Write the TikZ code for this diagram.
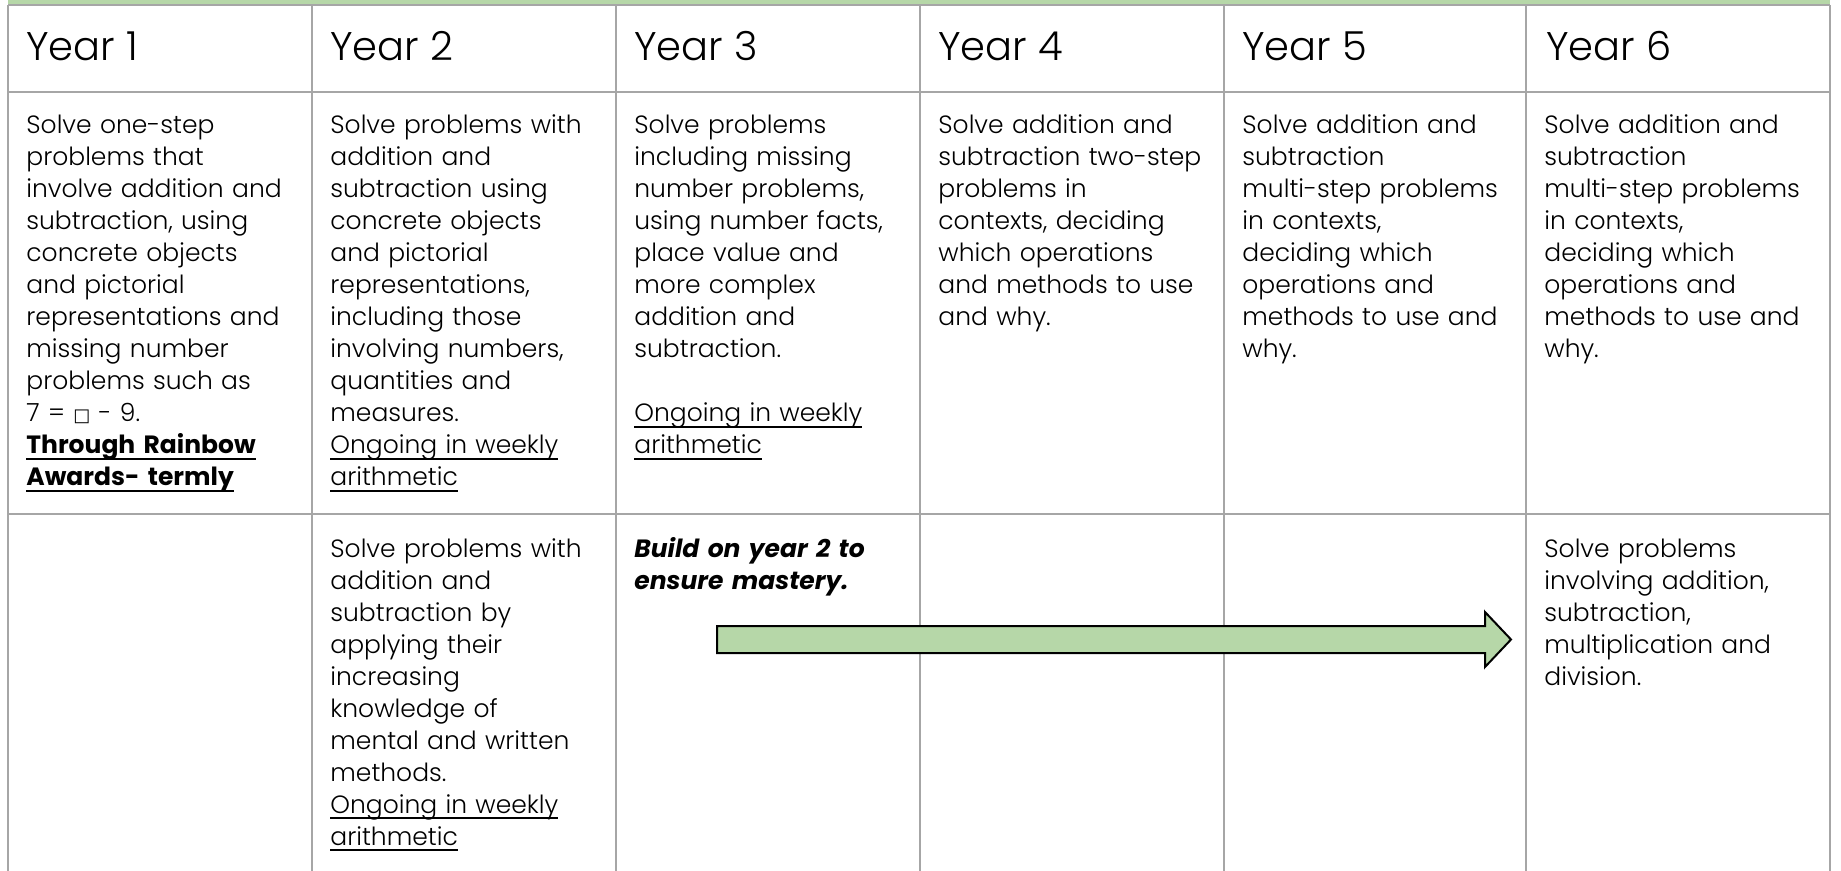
\documentclass[tikz,border=0pt]{standalone}
\usepackage{fontspec}
\setmainfont{Poppins}[UprightFont=* Light, BoldFont=* Bold,
  ItalicFont=* Light Italic, BoldItalicFont=* Bold Italic]
\newfontfamily\boxfont{DejaVu Sans}
\definecolor{gridgray}{RGB}{166,166,166}
\definecolor{leafgreen}{RGB}{182,215,168}
\tikzset{>=stealth}
\usetikzlibrary{positioning}

\newcommand{\undl}[1]{\leavevmode\setbox0\hbox{#1}\rlap{\vrule height -2.2pt depth 2.9pt width \wd0}\box0}
\newcommand{\ongoing}{\undl{Ongoing in weekly}\\\undl{arithmetic}}

\begin{document}
\begin{tikzpicture}[x=0.5pt,y=-0.5pt,
    yearhead/.style={anchor=base west, inner sep=0pt, font=\fontsize{20}{24}\selectfont},
    cell/.style={anchor=base west, inner sep=0pt, text width=143pt, align=left,
      font=\fontsize{12.5}{16}\selectfont}]
  \useasboundingbox (0,0) rectangle (1841,871);

  % Green strip left over from the row above
  \fill[leafgreen] (8,0) rectangle (1830,5);

  % Grid
  \foreach \x in {8,312,616,920,1224,1526,1830} {
    \draw[gridgray, line width=1pt] (\x,5) -- (\x,871);
  }
  \foreach \y in {5,92,514} {
    \draw[gridgray, line width=1pt] (8,\y) -- (1830,\y);
  }

  % Year headers
  \foreach \i in {1,...,6} {
    \node[yearhead] (h\i) at (26+304*\i-304,61) {Year \i};
  }

  % First row of statements
  \node[cell] (s1) at (26,134) {Solve one-step\\problems that\\involve addition and\\subtraction, using\\concrete objects\\and pictorial\\representations and\\missing number\\problems such as\\7 = {\boxfont\fontsize{9}{16}\selectfont □} - 9.\\
    \textbf{\undl{Through Rainbow}}\\\textbf{\undl{Awards- termly}}};
  \node[cell] (s2) at (330,134) {Solve problems with\\addition and\\subtraction using\\concrete objects\\and pictorial\\representations,\\including those\\involving numbers,\\quantities and\\measures.\\\ongoing};
  \node[cell] (s3) at (634,134) {Solve problems\\including missing\\number problems,\\using number facts,\\place value and\\more complex\\addition and\\subtraction.\\[16pt]\ongoing};
  \node[cell] (s4) at (938,134) {Solve addition and\\subtraction two-step\\problems in\\contexts, deciding\\which operations\\and methods to use\\and why.};
  \node[cell] (s5) at (1242,134) {Solve addition and\\subtraction\\multi-step problems\\in contexts,\\deciding which\\operations and\\methods to use and\\why.};
  \node[cell] (s6) at (1544,134) {Solve addition and\\subtraction\\multi-step problems\\in contexts,\\deciding which\\operations and\\methods to use and\\why.};

  % Second row of statements
  \node[cell] (t2) at (330,557) {Solve problems with\\addition and\\subtraction by\\applying their\\increasing\\knowledge of\\mental and written\\methods.\\\ongoing};
  \node[cell] (t3) at (634,557) {\textbf{\textit{Build on year 2 to\\ensure mastery.}}};
  \node[cell] (t6) at (1544,557) {Solve problems\\involving addition,\\subtraction,\\multiplication and\\division.};

  % Block arrow from year 3 to year 6
  \draw[black, line width=1pt, fill=leafgreen, line join=miter]
    (717,626) -- (1485,626) -- (1485,612) -- (1511,639.5)
    -- (1485,667) -- (1485,653) -- (717,653) -- cycle;
\end{tikzpicture}
\end{document}
